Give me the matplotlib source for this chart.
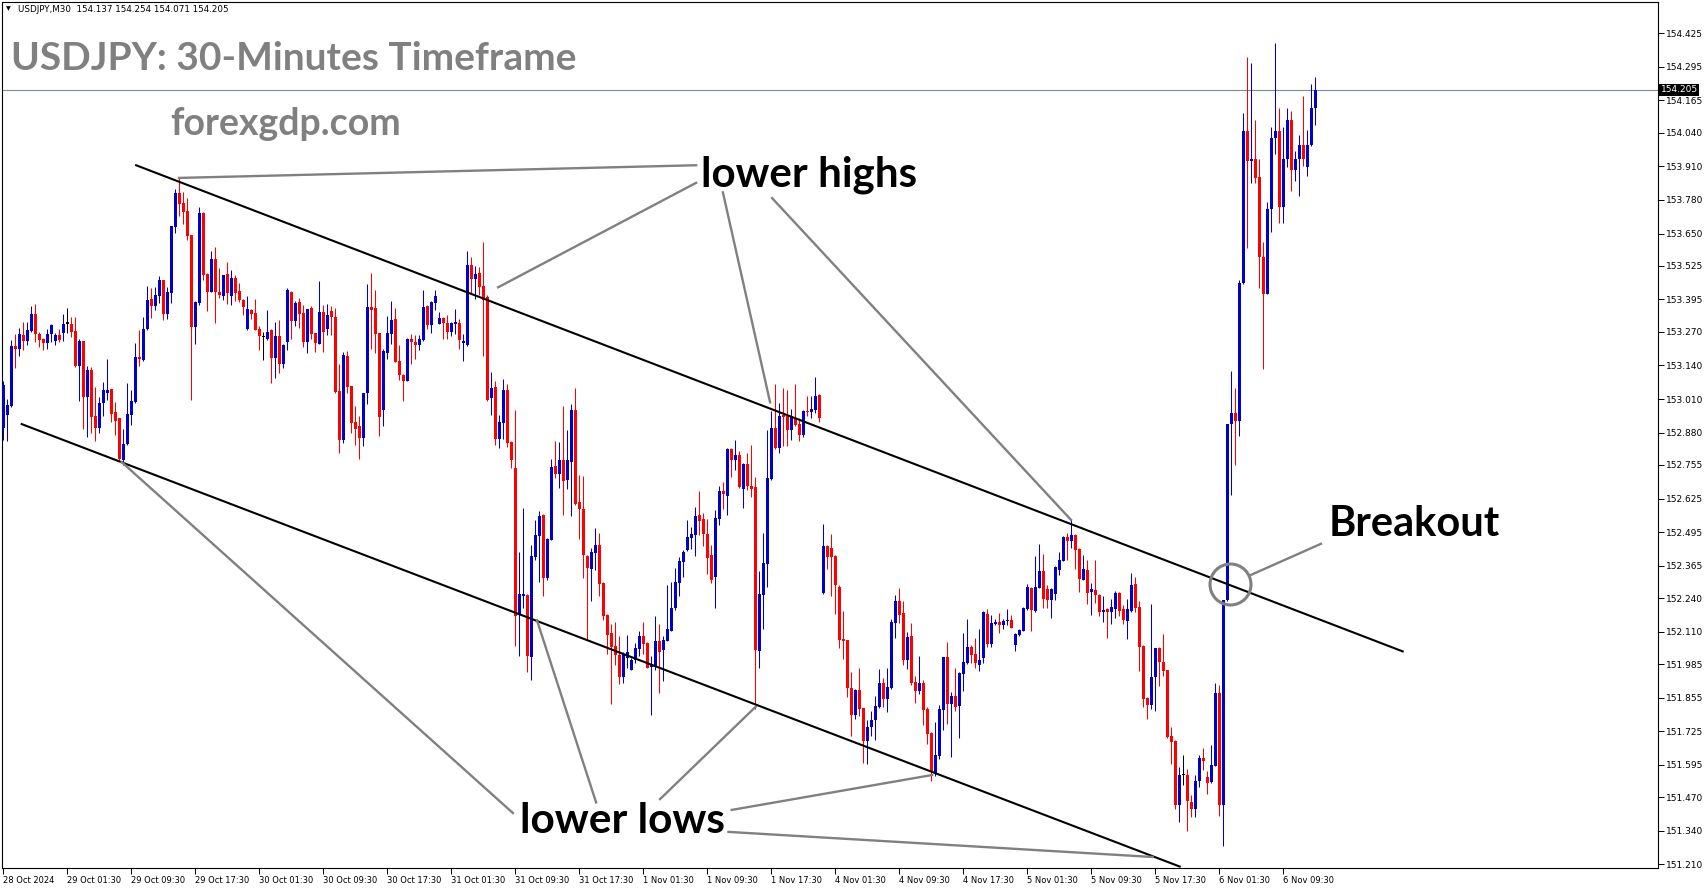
import numpy as np
import matplotlib.pyplot as plt

# USDJPY M30 candles, 28 Oct 2024 17:30 .. 6 Nov 2024 ~10:00
opens = [
    152.896, 152.948, 152.982, 153.215, 153.204, 153.257, 153.234, 153.273, 153.338, 153.261,
    153.242, 153.228, 153.262, 153.234, 153.257, 153.266, 153.302, 153.302, 153.273, 153.139,
    153.234, 153.019, 153.122, 152.944, 152.899, 152.996, 153.034, 153.048, 152.959, 152.936,
    152.774, 152.836, 152.948, 152.998, 153.172, 153.161, 153.280, 153.396, 153.371, 153.409,
    153.470, 153.340, 153.421, 153.676, 153.808, 153.769, 153.737, 153.644, 153.289, 153.382,
    153.729, 153.493, 153.425, 153.551, 153.424, 153.409, 153.493, 153.409, 153.478, 153.426,
    153.393, 153.280, 153.354, 153.342, 153.280, 153.248, 153.242, 153.277, 153.170, 153.253,
    153.146, 153.231, 153.424, 153.313, 153.385, 153.343, 153.232, 153.362, 153.265, 153.224,
    153.347, 153.281, 153.350, 153.327, 153.041, 152.852, 153.176, 153.060, 152.921, 152.906,
    152.861, 153.033, 153.366, 153.362, 153.265, 152.968, 153.189, 153.263, 153.319, 153.157,
    153.103, 153.081, 153.242, 153.231, 153.219, 153.238, 153.370, 153.297, 153.382, 153.301,
    153.324, 153.304, 153.270, 153.301, 153.304, 153.227, 153.219, 153.530, 153.475, 153.498,
    153.447, 153.405, 153.012, 153.057, 152.856, 152.918, 153.045, 152.844, 152.744, 152.179,
    152.249, 152.252, 152.013, 152.399, 152.481, 152.562, 152.318, 152.465, 152.751, 152.720,
    152.775, 152.697, 152.767, 152.968, 152.612, 152.585, 152.403, 152.353, 152.415, 152.446,
    152.299, 152.175, 152.106, 152.055, 152.021, 151.935, 152.009, 151.963, 152.001, 152.044,
    152.094, 152.067, 151.974, 151.978, 152.075, 152.040, 152.075, 152.113, 152.202, 152.299,
    152.380, 152.427, 152.473, 152.485, 152.562, 152.546, 152.489, 152.407, 152.322, 152.546,
    152.654, 152.635, 152.817, 152.774, 152.794, 152.662, 152.759, 152.674, 152.670, 152.036,
    152.252, 152.372, 152.701, 152.898, 152.821, 152.948, 152.944, 152.890, 152.933, 152.914,
    152.871, 152.964, 152.960, 152.968, 153.026, 152.260, 152.442, 152.434, 152.403, 152.283,
    152.082, 152.078, 151.893, 151.788, 151.885, 151.815, 151.688, 151.742, 151.769, 151.819,
    151.912, 151.850, 151.893, 152.144, 152.229, 152.183, 152.001, 152.094, 151.916, 151.881,
    151.912, 151.811, 151.719, 151.560, 151.630, 151.808, 152.012, 151.831, 151.862, 151.823,
    151.947, 151.989, 152.051, 152.024, 151.980, 152.009, 152.179, 152.063, 152.140, 152.148,
    152.136, 152.152, 152.156, 152.059, 152.098, 152.113, 152.199, 152.280, 152.191, 152.280,
    152.345, 152.276, 152.233, 152.256, 152.349, 152.384, 152.477, 152.461, 152.485, 152.431,
    152.311, 152.349, 152.264, 152.272, 152.253, 152.187, 152.198, 152.187, 152.198, 152.260,
    152.198, 152.152, 152.190, 152.295, 152.206, 152.055, 151.854, 151.827, 151.935, 152.047,
    151.993, 151.962, 151.707, 151.688, 151.440, 151.556, 151.556, 151.452, 151.425, 151.533,
    151.622, 151.548, 151.529, 151.591, 151.873, 151.440, 152.233, 152.913, 152.957, 152.926,
    153.460, 154.048, 153.932, 153.938, 153.869, 153.558, 153.418, 153.745, 154.021, 154.048,
    153.751, 153.938, 154.088, 153.896, 153.938, 153.994, 153.907, 153.994, 154.137,
]
highs = [
    153.080, 153.010, 153.238, 153.261, 153.284, 153.306, 153.306, 153.369, 153.377, 153.269,
    153.247, 153.280, 153.301, 153.266, 153.280, 153.338, 153.362, 153.326, 153.327, 153.244,
    153.236, 153.137, 153.132, 153.055, 153.016, 153.076, 153.163, 153.050, 152.998, 152.938,
    152.893, 153.072, 153.045, 153.226, 153.277, 153.327, 153.447, 153.440, 153.444, 153.485,
    153.472, 153.444, 153.681, 153.822, 153.868, 153.810, 153.787, 153.646, 153.388, 153.752,
    153.735, 153.496, 153.583, 153.596, 153.516, 153.491, 153.540, 153.509, 153.489, 153.457,
    153.398, 153.408, 153.358, 153.397, 153.292, 153.271, 153.354, 153.279, 153.308, 153.315,
    153.221, 153.439, 153.426, 153.389, 153.401, 153.374, 153.360, 153.370, 153.267, 153.466,
    153.374, 153.377, 153.370, 153.362, 153.146, 153.193, 153.197, 153.062, 152.983, 152.944,
    153.035, 153.456, 153.499, 153.432, 153.267, 153.204, 153.331, 153.389, 153.362, 153.219,
    153.108, 153.246, 153.261, 153.258, 153.258, 153.432, 153.374, 153.388, 153.432, 153.347,
    153.329, 153.335, 153.306, 153.360, 153.320, 153.262, 153.583, 153.560, 153.525, 153.521,
    153.618, 153.413, 153.115, 153.080, 152.949, 153.088, 153.068, 152.846, 152.968, 152.419,
    152.589, 152.256, 152.446, 152.543, 152.577, 152.566, 152.471, 152.779, 152.848, 152.844,
    152.983, 152.891, 152.991, 153.053, 152.717, 152.713, 152.405, 152.434, 152.512, 152.492,
    152.303, 152.177, 152.140, 152.148, 152.094, 152.032, 152.098, 152.009, 152.067, 152.113,
    152.148, 152.069, 152.017, 152.171, 152.140, 152.094, 152.291, 152.303, 152.357, 152.399,
    152.427, 152.543, 152.516, 152.593, 152.655, 152.570, 152.546, 152.446, 152.581, 152.674,
    152.689, 152.821, 152.819, 152.852, 152.809, 152.763, 152.801, 152.832, 152.709, 152.345,
    152.492, 152.890, 152.964, 153.068, 152.995, 153.053, 153.045, 152.972, 153.068, 152.937,
    152.966, 153.022, 153.022, 153.095, 153.030, 152.527, 152.446, 152.488, 152.407, 152.291,
    152.190, 152.080, 151.955, 151.887, 151.970, 151.817, 151.769, 151.804, 151.862, 151.966,
    151.931, 151.970, 152.160, 152.252, 152.279, 152.229, 152.109, 152.144, 151.939, 152.016,
    151.924, 151.819, 151.721, 151.761, 151.827, 152.014, 152.070, 151.877, 151.970, 151.953,
    152.105, 152.160, 152.060, 152.085, 152.120, 152.189, 152.199, 152.175, 152.160, 152.183,
    152.160, 152.199, 152.175, 152.104, 152.121, 152.204, 152.295, 152.282, 152.403, 152.450,
    152.411, 152.291, 152.278, 152.363, 152.419, 152.479, 152.492, 152.547, 152.487, 152.433,
    152.407, 152.388, 152.299, 152.388, 152.255, 152.249, 152.201, 152.237, 152.268, 152.264,
    152.214, 152.237, 152.337, 152.322, 152.229, 152.057, 151.856, 152.217, 152.049, 152.051,
    152.102, 151.964, 151.742, 151.690, 151.587, 151.634, 151.579, 151.479, 151.556, 151.634,
    151.661, 151.572, 151.672, 151.912, 151.904, 152.233, 152.913, 153.117, 153.054, 153.470,
    154.115, 154.333, 154.308, 154.088, 153.938, 153.616, 153.772, 154.063, 154.385, 154.136,
    154.063, 154.136, 154.125, 153.969, 154.032, 154.183, 154.052, 154.229, 154.254,
]
lows = [
    152.850, 152.849, 152.980, 153.131, 153.177, 153.199, 153.219, 153.269, 153.231, 153.212,
    153.199, 153.203, 153.231, 153.219, 153.231, 153.235, 153.266, 153.251, 153.135, 153.003,
    152.895, 152.864, 152.880, 152.849, 152.877, 152.945, 153.008, 152.922, 152.871, 152.774,
    152.753, 152.834, 152.909, 152.996, 153.139, 153.157, 153.277, 153.324, 153.354, 153.380,
    153.315, 153.320, 153.382, 153.653, 153.719, 153.688, 153.625, 153.006, 153.224, 153.372,
    153.471, 153.351, 153.423, 153.304, 153.400, 153.393, 153.376, 153.373, 153.389, 153.386,
    153.335, 153.278, 153.318, 153.275, 153.199, 153.161, 153.240, 153.073, 153.091, 153.109,
    153.131, 153.200, 153.242, 153.292, 153.285, 153.211, 153.189, 153.242, 153.191, 153.222,
    153.193, 153.258, 153.258, 153.033, 152.803, 152.839, 153.035, 152.880, 152.832, 152.779,
    152.830, 152.992, 153.205, 153.189, 152.868, 152.906, 153.166, 153.224, 153.153, 153.085,
    153.004, 153.079, 153.145, 153.165, 153.200, 153.234, 153.281, 153.266, 153.355, 153.299,
    153.243, 153.243, 153.254, 153.262, 153.204, 153.157, 153.215, 153.420, 153.397, 153.413,
    153.177, 153.003, 152.949, 152.833, 152.821, 152.856, 152.825, 152.744, 152.055, 152.017,
    152.202, 151.955, 151.924, 152.388, 152.303, 152.249, 152.311, 152.463, 152.705, 152.666,
    152.562, 152.662, 152.558, 152.601, 152.469, 152.318, 152.079, 152.229, 152.349, 152.249,
    152.156, 152.024, 151.831, 151.982, 151.908, 151.912, 151.970, 151.961, 151.990, 152.017,
    152.024, 151.968, 151.789, 151.963, 151.874, 151.920, 152.073, 152.111, 152.195, 152.249,
    152.322, 152.423, 152.430, 152.403, 152.485, 152.442, 152.334, 152.299, 152.202, 152.523,
    152.585, 152.562, 152.709, 152.736, 152.666, 152.589, 152.658, 152.631, 151.811, 151.970,
    152.121, 152.283, 152.697, 152.817, 152.801, 152.828, 152.828, 152.852, 152.906, 152.848,
    152.863, 152.944, 152.937, 152.956, 152.921, 152.256, 152.353, 152.248, 152.179, 152.047,
    152.005, 151.858, 151.707, 151.773, 151.784, 151.603, 151.599, 151.707, 151.692, 151.815,
    151.819, 151.800, 151.889, 152.086, 152.144, 151.982, 151.966, 151.904, 151.835, 151.869,
    151.750, 151.676, 151.533, 151.552, 151.618, 151.730, 151.753, 151.626, 151.804, 151.699,
    151.881, 151.985, 151.990, 151.970, 151.960, 151.990, 152.051, 152.051, 152.136, 152.106,
    152.121, 152.136, 152.123, 152.036, 152.094, 152.111, 152.195, 152.113, 152.187, 152.278,
    152.202, 152.202, 152.164, 152.233, 152.330, 152.382, 152.388, 152.434, 152.353, 152.264,
    152.309, 152.218, 152.175, 152.222, 152.171, 152.149, 152.086, 152.140, 152.163, 152.171,
    152.140, 152.082, 152.187, 152.187, 151.958, 151.819, 151.773, 151.811, 151.804, 151.900,
    151.939, 151.701, 151.599, 151.425, 151.375, 151.518, 151.340, 151.394, 151.394, 151.510,
    151.576, 151.483, 151.525, 151.589, 151.398, 151.280, 152.230, 152.639, 152.753, 152.867,
    153.456, 153.595, 153.844, 153.844, 153.439, 153.127, 153.416, 153.657, 153.959, 153.689,
    153.689, 153.907, 153.813, 153.855, 153.797, 153.911, 153.872, 153.990, 154.071,
]
closes = [
    153.064, 152.986, 153.215, 153.203, 153.261, 153.234, 153.277, 153.338, 153.262, 153.238,
    153.228, 153.261, 153.297, 153.257, 153.238, 153.302, 153.302, 153.270, 153.139, 153.234,
    153.019, 153.122, 152.941, 152.899, 152.993, 153.045, 153.045, 152.952, 152.926, 152.778,
    152.836, 152.952, 153.002, 153.172, 153.164, 153.280, 153.393, 153.371, 153.412, 153.470,
    153.340, 153.424, 153.679, 153.808, 153.766, 153.734, 153.641, 153.289, 153.386, 153.729,
    153.489, 153.425, 153.551, 153.422, 153.412, 153.489, 153.421, 153.478, 153.421, 153.394,
    153.366, 153.358, 153.338, 153.277, 153.255, 153.248, 153.269, 153.170, 153.253, 153.146,
    153.219, 153.431, 153.313, 153.383, 153.340, 153.232, 153.358, 153.263, 153.227, 153.347,
    153.270, 153.335, 153.329, 153.037, 152.852, 153.180, 153.058, 152.918, 152.894, 152.861,
    153.033, 153.366, 153.356, 153.263, 152.942, 153.196, 153.265, 153.316, 153.155, 153.104,
    153.081, 153.242, 153.232, 153.219, 153.242, 153.366, 153.296, 153.386, 153.409, 153.324,
    153.304, 153.270, 153.304, 153.308, 153.239, 153.235, 153.530, 153.475, 153.494, 153.445,
    153.393, 153.007, 153.053, 152.856, 152.922, 153.045, 152.840, 152.775, 152.171, 152.256,
    152.256, 152.017, 152.403, 152.485, 152.558, 152.318, 152.469, 152.748, 152.720, 152.775,
    152.693, 152.775, 152.968, 152.604, 152.585, 152.407, 152.357, 152.419, 152.446, 152.295,
    152.171, 152.098, 152.051, 152.021, 151.935, 152.024, 152.032, 152.001, 152.048, 152.094,
    152.063, 151.970, 151.986, 152.075, 152.032, 152.079, 152.121, 152.202, 152.303, 152.384,
    152.419, 152.477, 152.489, 152.558, 152.539, 152.489, 152.396, 152.310, 152.550, 152.654,
    152.643, 152.817, 152.774, 152.794, 152.670, 152.759, 152.674, 152.662, 152.040, 152.256,
    152.376, 152.705, 152.898, 152.821, 152.944, 152.941, 152.890, 152.944, 152.910, 152.871,
    152.964, 152.960, 152.972, 153.022, 152.937, 152.442, 152.400, 152.399, 152.291, 152.078,
    152.074, 151.893, 151.788, 151.885, 151.811, 151.688, 151.742, 151.769, 151.823, 151.912,
    151.850, 151.897, 152.148, 152.229, 152.175, 152.001, 152.090, 151.912, 151.881, 151.912,
    151.808, 151.715, 151.568, 151.634, 151.811, 152.012, 151.831, 151.862, 151.819, 151.951,
    151.993, 152.051, 152.020, 151.990, 151.999, 152.187, 152.063, 152.144, 152.148, 152.136,
    152.152, 152.156, 152.125, 152.102, 152.117, 152.202, 152.284, 152.195, 152.284, 152.345,
    152.237, 152.233, 152.276, 152.361, 152.388, 152.477, 152.461, 152.485, 152.427, 152.314,
    152.353, 152.260, 152.276, 152.253, 152.187, 152.195, 152.187, 152.206, 152.260, 152.190,
    152.156, 152.198, 152.291, 152.202, 152.051, 151.850, 151.827, 151.935, 152.047, 151.993,
    151.958, 151.703, 151.684, 151.440, 151.556, 151.556, 151.456, 151.425, 151.533, 151.622,
    151.610, 151.525, 151.595, 151.873, 151.440, 152.232, 152.913, 152.957, 152.926, 153.460,
    154.048, 153.932, 153.938, 153.865, 153.558, 153.418, 153.745, 154.021, 154.048, 153.751,
    153.938, 154.088, 153.896, 153.938, 153.994, 153.938, 153.994, 154.136, 154.205,
]

# one label every 16 bars (8 hours)
date_labels = ["28 Oct 2024", "29 Oct 01:30", "29 Oct 09:30", "29 Oct 17:30",
               "30 Oct 01:30", "30 Oct 09:30", "30 Oct 17:30", "31 Oct 01:30",
               "31 Oct 09:30", "31 Oct 17:30", "1 Nov 01:30", "1 Nov 09:30",
               "1 Nov 17:30", "4 Nov 01:30", "4 Nov 09:30", "4 Nov 17:30",
               "5 Nov 01:30", "5 Nov 09:30", "5 Nov 17:30", "6 Nov 01:30",
               "6 Nov 09:30"]
price_labels = ["154.425", "154.295", "154.165", "154.040", "153.910", "153.780",
                "153.650", "153.525", "153.395", "153.270", "153.140", "153.010",
                "152.880", "152.755", "152.625", "152.495", "152.365", "152.240",
                "152.110", "151.985", "151.855", "151.725", "151.595", "151.470",
                "151.340", "151.210"]
last_price = 154.205

# channel lines (bar index, price)
upper_channel = [(33.2, 153.914), (349.85, 152.034)]
lower_channel = [(4.6, 152.913), (294.1, 151.202)]
# grey pointer lines
pointers = [
    (43.9, 153.865, 173.2, 153.914),
    (173.2, 153.846, 123.7, 153.442),
    (179.9, 153.809, 191.7, 152.997),
    (192.2, 153.787, 266.9, 152.543),
    (127.4, 151.409, 29.6, 152.766),
    (148.2, 151.450, 133.4, 152.155),
    (164.2, 151.463, 188.1, 151.820),
    (182.1, 151.421, 232.2, 151.556),
    (181.3, 151.336, 287.3, 151.239),
    (329.4, 152.450, 311.8, 152.329),
]

W, H = 1705, 888
fig = plt.figure(figsize=(W / 100, H / 100), dpi=100)
ax = fig.add_axes([2 / W, (H - 868) / H, (1658 - 2) / W, (868 - 2) / H])
ax.set_xlim(-0.325, 413.675)
ax.set_ylim(151.1964, 154.5453)

o, h, l, c = (np.array(v) for v in (opens, highs, lows, closes))
x = np.arange(len(c))
cols = np.where(c > o, '#0000cc', np.where(c < o, '#ff0000', '#000000'))
ax.vlines(x, l, h, colors=cols, linewidth=0.75, zorder=3)
ax.bar(x, np.maximum(np.abs(c - o), 0.004), bottom=np.minimum(o, c),
       width=0.75, color=cols, linewidth=0, zorder=3)

ax.axhline(last_price, color='#7d8b99', lw=0.8, zorder=1)

ax.plot(*zip(*upper_channel), color='black', lw=1.5, zorder=4)
ax.plot(*zip(*lower_channel), color='black', lw=1.5, zorder=4)
for x0, y0, x1, y1 in pointers:
    ax.plot([x0, x1], [y0, y1], color='#808080', lw=1.7, zorder=4)
ax.plot(306.6, 152.295, 'o', ms=29.5, mfc='none', mec='#808080', mew=2.2, zorder=5)

big = dict(family=['Lato', 'DejaVu Sans'], weight='bold')
ax.text(1.9, 154.284, "USDJPY: 30-Minutes Timeframe", color='#808080', fontsize=28, **big)
ax.text(41.85, 154.032, "forexgdp.com", color='#808080', fontsize=27, **big)
ax.text(174.5, 153.830, "lower highs", color='black', fontsize=30.3, **big)
ax.text(129.1, 151.332, "lower lows", color='black', fontsize=30.5, **big)
ax.text(331.4, 152.480, "Breakout", color='black', fontsize=30, **big)

fig.text(5.5 / W, 1 - 9 / H, "\u25bc", fontsize=4.5, va='center')
fig.text(18.5 / W, 1 - 9 / H, "USDJPY,M30  154.137 154.254 154.071 154.205",
         fontsize=6.3, va='center')

ax.yaxis.tick_right()
ax.set_yticks([float(s) for s in price_labels])
ax.set_yticklabels(price_labels)
ax.tick_params(axis='y', direction='out', length=4, width=0.7, labelsize=6.5, pad=2)
ax.set_xticks(np.arange(len(date_labels)) * 16)
ax.set_xticklabels(date_labels, ha='left')
ax.tick_params(axis='x', direction='out', length=4, width=0.7, labelsize=6, pad=2)
for s in ax.spines.values():
    s.set_linewidth(0.8)

ax.text(1.0015, last_price, f"{last_price:.3f}", transform=ax.get_yaxis_transform(),
        color='white', fontsize=6.5, va='center', ha='left',
        bbox=dict(boxstyle='square,pad=0.15', fc='black', ec='none'))

fig.savefig('out.png', dpi=100)
